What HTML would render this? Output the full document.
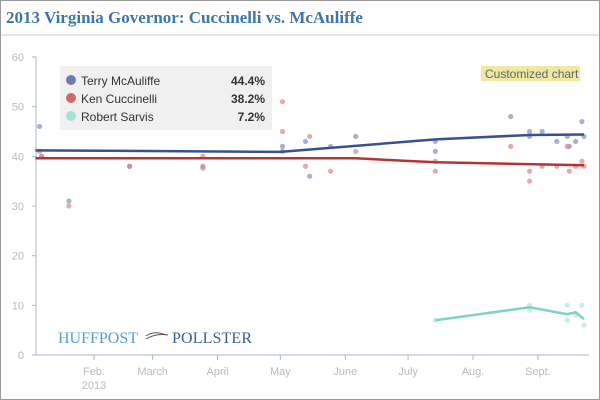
<!DOCTYPE html>
<html><head><meta charset="utf-8"><style>
body{margin:0;width:600px;height:400px;overflow:hidden;background:#fff;font-family:"Liberation Sans",sans-serif}
#frame{position:absolute;left:0;top:0;width:598px;height:398px;border:1px solid #999}
</style></head><body>
<div id="frame"></div>
<svg id="c" width="600" height="400" style="position:absolute;left:0;top:0">
<text x="6" y="23" font-family="Liberation Serif, serif" font-weight="bold" font-size="17" fill="#3d76ad">2013 Virginia Governor: Cuccinelli vs. McAuliffe</text>
<line x1="1" y1="35" x2="599" y2="35" stroke="#ccc"/>
<g id="axes"></g>
<g id="marks"></g>
<rect x="60" y="66" width="212" height="64" fill="#f0f0f0"/>
<g font-size="12" fill="#333">
<circle cx="71" cy="80" r="5" fill="#6e7bb0"/>
<text x="81" y="85">Terry McAuliffe</text>
<text x="265" y="85" text-anchor="end" font-weight="bold">44.4%</text>
<circle cx="71" cy="98" r="5" fill="#cf6a6a"/>
<text x="81" y="103">Ken Cuccinelli</text>
<text x="265" y="103" text-anchor="end" font-weight="bold">38.2%</text>
<circle cx="71" cy="116" r="5" fill="#a9e0d4"/>
<text x="81" y="121">Robert Sarvis</text>
<text x="265" y="121" text-anchor="end" font-weight="bold">7.2%</text>
</g>
<rect x="481" y="66" width="99" height="15" fill="#efe8a0"/>
<text x="485" y="78" font-size="12" fill="#666">Customized chart</text>
<text x="58" y="343" font-family="Liberation Serif, serif" font-size="16" fill="#5a9bd4" textLength="80">HUFFPOST</text>
<path d="M146 336 Q154 330 166 335 M146 339 Q156 333 168 335" stroke="#555" fill="none"/>
<text x="172" y="343" font-family="Liberation Serif, serif" font-size="16" fill="#3a5d95" textLength="80">POLLSTER</text>
</svg>
<script>
const yTicks=[0,10,20,30,40,50,60];
const monthDays=[31,59,90,120,151,181,212,243];
const monthLabels=["Feb.","March","April","May","June","July","Aug.","Sept."];
const mcDays=[5,6,19,48,83,121,121,132,134,144,156,194,194,230,239,239,245,252,257,258,261,264,265];
const mcVals=[46,40,31,38,38,42,41,43,36,42,44,43,41,48,45,44,45,43,44,42,43,47,44];
const kcDays=[5,6,19,48,83,83,121,121,134,132,144,156,194,194,230,239,239,245,252,257,258,261,264,265];
const kcVals=[41,40,30,38,37.6,40,51,45,44,38,37,41,37,39,42,37,35,38,38,42,37,38,39,38];
const rsDays=[194,239,239,257,257,261,264,265];
const rsVals=[7,10,9,10,7,8,10,6];
const mcTrendDays=[3,120,194,239,265];
const mcTrendVals=[41.2,40.9,43.4,44.3,44.4];
const kcTrendDays=[3,156,194,265];
const kcTrendVals=[39.6,39.6,38.8,38.2];
const rsTrendDays=[194,239,257,261,265];
const rsTrendVals=[7.0,9.6,8.2,8.6,7.2];
const X=d=>29.1+d*2.094, Y=v=>355-v*4.967;
const NS="http://www.w3.org/2000/svg";
const ax=document.getElementById('axes'),mk=document.getElementById('marks');
function el(t,a,p){const e=document.createElementNS(NS,t);for(const k in a)e.setAttribute(k,a[k]);p.appendChild(e);return e;}
let l=el('line',{x1:36,y1:57,x2:36,y2:355,stroke:'#aab8cc'},ax);


l=el('line',{x1:36,y1:355,x2:589,y2:355,stroke:'#aab8cc'},ax);


yTicks.forEach(v=>{
 const t=el('line',{x1:32,x2:36,y1:Y(v),y2:Y(v),stroke:'#aab8cc'},ax);
 
 
 const tx=el('text',{x:24,y:Y(v)+4,'text-anchor':'end','font-size':11,fill:'#bbb'},ax);tx.textContent=v;
 
 
});
monthDays.forEach((d,i)=>{
 const t=el('line',{x1:X(d),x2:X(d),y1:355,y2:360,stroke:'#aab8cc'},ax);
 
 
 const tx=el('text',{x:X(d),y:375,'text-anchor':'middle','font-size':11,fill:'#bbb'},ax);tx.textContent=monthLabels[i];
 
 
});
const yr=el('text',{x:X(31),y:389,'text-anchor':'middle','font-size':11,fill:'#bbb'},ax);yr.textContent="2013";


function pts(days,vals,col,name){days.forEach((d,i)=>{const c=el('circle',{cx:X(d),cy:Y(vals[i]),r:2.6,fill:col,opacity:0.7},mk);
 
 });}
function line(days,vals,col,name){const p=el('polyline',{points:days.map((d,i)=>X(d)+','+Y(vals[i])).join(' '),fill:'none',stroke:col,'stroke-width':2.5},mk);
 
 }
pts(mcDays,mcVals,'#8292c0','poll-point-mcauliffe');
pts(kcDays,kcVals,'#dd8585','poll-point-cuccinelli');
pts(rsDays,rsVals,'#b5e6da','poll-point-sarvis');
line(mcTrendDays,mcTrendVals,'#3b4f93','trend-line-mcauliffe');
line(kcTrendDays,kcTrendVals,'#b83434','trend-line-cuccinelli');
line(rsTrendDays,rsTrendVals,'#7fd3c2','trend-line-sarvis');
</script>
</body></html>
